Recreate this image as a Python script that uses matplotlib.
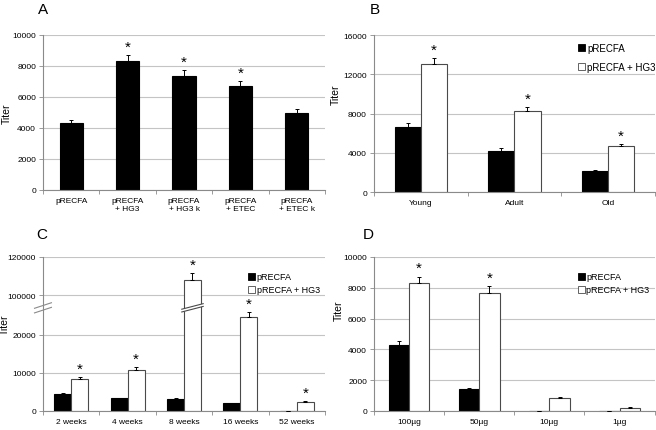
import numpy as np
import matplotlib
matplotlib.use("Agg")
import matplotlib.pyplot as plt
from matplotlib.patches import Patch

plt.rcParams['font.family'] = ['Liberation Sans', 'DejaVu Sans']

# --- data ---
a_cats = ["pRECFA", "pRECFA\n+ HG3", "pRECFA\n+ HG3 k", "pRECFA\n+ ETEC", "pRECFA\n+ ETEC k"]
a_vals = [4300, 8300, 7350, 6700, 4970]
a_err = [220, 410, 390, 320, 260]
a_star = [False, True, True, True, False]

b_cats = ["Young", "Adult", "Old"]
b_plain = [6640, 4200, 2140]
b_plain_err = [410, 300, 160]
b_hg3 = [13020, 8240, 4680]
b_hg3_err = [640, 470, 230]

c_cats = ["2 weeks", "4 weeks", "8 weeks", "16 weeks", "52 weeks"]
c_plain = [4350, 3300, 3200, 2100, 80]
c_plain_err = [250, 180, 200, 100, 0]
c_hg3 = [8350, 10800, 108000, 24600, 2430]
c_hg3_err = [520, 600, 3700, 1300, 270]

d_cats = ["100\u00b5g", "50\u00b5g", "10\u00b5g", "1\u00b5g"]
d_plain = [4310, 1400, 0, 0]
d_plain_err = [220, 70, 0, 0]
d_hg3 = [8320, 7690, 840, 220]
d_hg3_err = [410, 410, 40, 20]

LEG = ["pRECFA", "pRECFA + HG3"]
GRID = "#c4c4c4"
AXC = "#8a8a8a"
EDGE = "#4a4a4a"

fig = plt.figure(figsize=(6.56, 4.31), dpi=100)
axA = fig.add_axes([0.0655, 0.557, 0.430, 0.3596])
axB = fig.add_axes([0.570, 0.552, 0.428, 0.364])
axC = fig.add_axes([0.0655, 0.0441, 0.430, 0.3573])
axD = fig.add_axes([0.570, 0.0441, 0.428, 0.3573])


def style(ax, cats, yticks):
    n = len(cats)
    ax.set_xlim(-0.5, n - 0.5)
    ax.set_xticks(range(n))
    ax.set_xticklabels(cats, fontsize=6)
    ax.set_xticks(np.arange(n + 1) - 0.5, minor=True)
    ax.tick_params(axis='x', which='major', length=0, pad=5)
    ax.tick_params(axis='x', which='minor', length=3, color=AXC, width=0.6)
    ax.set_yticks(yticks)
    ax.set_yticklabels([str(t) for t in yticks], fontsize=6)
    ax.tick_params(axis='y', length=3, color=AXC, width=0.6, pad=2)
    ax.set_ylim(yticks[0], yticks[-1])
    ax.yaxis.grid(True, color=GRID, linewidth=0.8)
    ax.set_axisbelow(True)
    for s in ['top', 'right']:
        ax.spines[s].set_visible(False)
    for s in ['left', 'bottom']:
        ax.spines[s].set_color(AXC)
        ax.spines[s].set_linewidth(0.8)
    ax.set_ylabel("Titer", fontsize=7.5)


def bars(ax, x, vals, errs, width, color):
    ax.bar(x, vals, width, color=color, edgecolor=EDGE if color == 'white' else 'black',
           linewidth=0.8, zorder=2)
    ax.errorbar(x, vals, yerr=[np.zeros(len(errs)), errs], fmt='none', ecolor='black',
                elinewidth=0.7, capsize=1.5, capthick=0.7, zorder=3)


def stars(ax, x, tops, flags):
    for xi, t, f in zip(x, tops, flags):
        if f:
            ax.annotate("*", (xi, t), xytext=(0, 1), textcoords='offset points',
                        ha='center', va='bottom', fontsize=11)


def legend(ax, x, y, spacing, fs):
    h = [Patch(facecolor='black', edgecolor='black', linewidth=0.6),
         Patch(facecolor='white', edgecolor=EDGE, linewidth=0.6)]
    ax.legend(h, LEG, loc='upper left', bbox_to_anchor=(x, y), frameon=False,
              fontsize=fs, handlelength=0.75, handleheight=0.75, handletextpad=0.2,
              labelspacing=spacing, borderaxespad=0, borderpad=0)


# A
style(axA, a_cats, [0, 2000, 4000, 6000, 8000, 10000])
xa = np.arange(len(a_cats))
bars(axA, xa, a_vals, a_err, 0.41, 'black')
stars(axA, xa, np.add(a_vals, a_err), a_star)

# B
style(axB, b_cats, [0, 4000, 8000, 12000, 16000])
xb = np.arange(len(b_cats))
wb = 0.28
bars(axB, xb - wb / 2, b_plain, b_plain_err, wb, 'black')
bars(axB, xb + wb / 2, b_hg3, b_hg3_err, wb, 'white')
stars(axB, xb + wb / 2, np.add(b_hg3, b_hg3_err), [True] * 3)
legend(axB, 0.726, 0.95, 0.95, 7)

# C : broken axis through a piecewise-linear scale
brk_lo, brk_hi = 27000, 93400
src = [-1e7, brk_lo, brk_hi, 1e7]
dst = [-1e7, brk_lo, brk_lo + 1, brk_lo + 1 + (1e7 - brk_hi) * 0.5]
axC.set_yscale('function', functions=(lambda y: np.interp(y, src, dst),
                                      lambda u: np.interp(u, dst, src)))
style(axC, c_cats, [0, 10000, 20000, 100000, 120000])
xc = np.arange(len(c_cats))
wc = 0.3
bars(axC, xc - wc / 2, c_plain, c_plain_err, wc, 'black')
bars(axC, xc + wc / 2, c_hg3, c_hg3_err, wc, 'white')
stars(axC, xc + wc / 2, np.add(c_hg3, c_hg3_err), [True] * 5)
legend(axC, 0.727, 0.90, 0.45, 6.5)

# break marks on the tall bar and on the axis
yb = brk_lo / (brk_lo + 1 + (120000 - brk_hi) * 0.5)
trans = axC.get_xaxis_transform()
bx0, bx1 = 2 - 0.04, 2 + wc + 0.04
sl, gap = 0.018, 0.009
axC.fill([bx0, bx1, bx1, bx0],
         [yb - sl - gap, yb + sl - gap, yb + sl + gap, yb - sl + gap],
         transform=trans, color='white', zorder=4, linewidth=0)
for off in (-gap, gap):
    axC.plot([bx0, bx1], [yb - sl + off, yb + sl + off], transform=trans,
             color=EDGE, linewidth=0.8, zorder=5, clip_on=False)
for off in (-0.015, 0.015):
    axC.plot([-0.03, 0.03], [yb - 0.018 + off, yb + 0.018 + off], transform=axC.transAxes,
             color=AXC, linewidth=0.8, zorder=5, clip_on=False)

# D
style(axD, d_cats, [0, 2000, 4000, 6000, 8000, 10000])
xd = np.arange(len(d_cats))
wd = 0.29
bars(axD, xd - wd / 2, d_plain, d_plain_err, wd, 'black')
bars(axD, xd + wd / 2, d_hg3, d_hg3_err, wd, 'white')
stars(axD, xd + wd / 2, np.add(d_hg3, d_hg3_err), [True, True, False, False])
legend(axD, 0.726, 0.90, 0.45, 6.5)

axA.yaxis.set_label_coords(-0.112, 0.5)
axB.yaxis.set_label_coords(-0.117, 0.63)
axC.yaxis.set_label_coords(-0.118, 0.565)
axD.yaxis.set_label_coords(-0.107, 0.66)

for lab, x, y in [("A", 0.0655, 0.977), ("B", 0.572, 0.977), ("C", 0.064, 0.455), ("D", 0.561, 0.455)]:
    fig.text(x, y, lab, fontsize=11, ha='center', va='center')

fig.savefig("out.png", dpi=100)
